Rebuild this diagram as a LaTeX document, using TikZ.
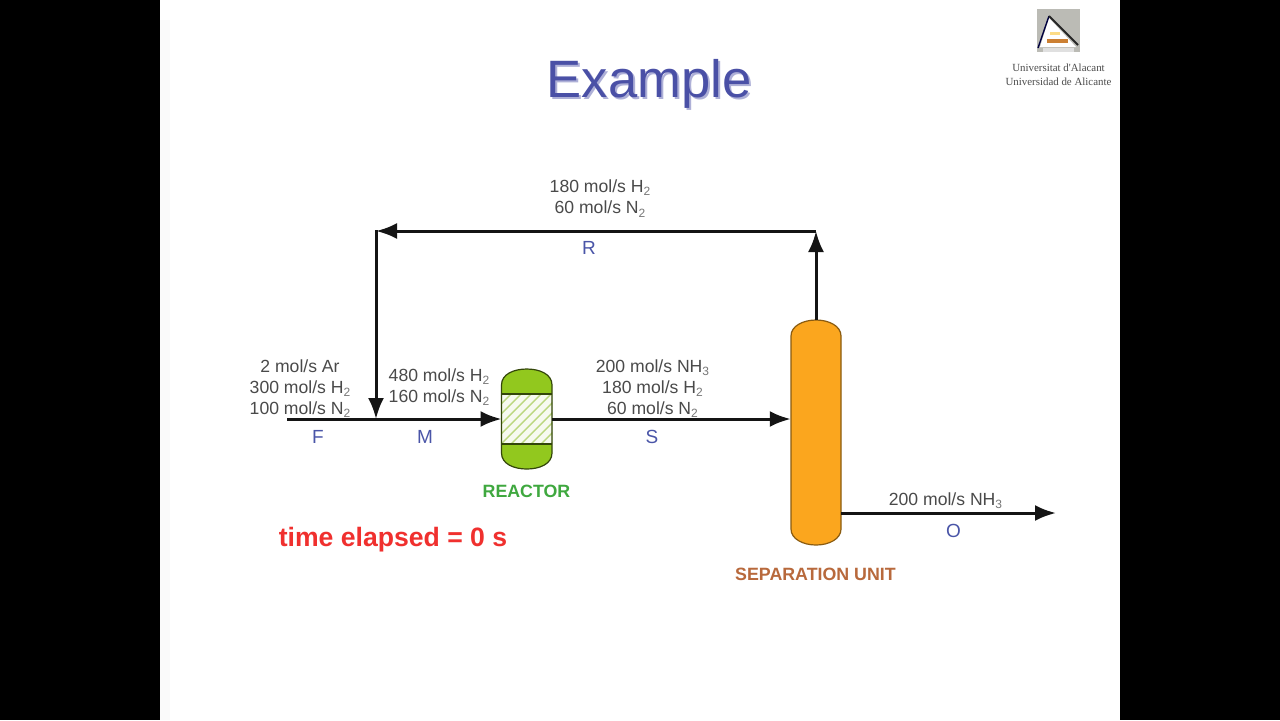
\documentclass[tikz,border=0pt]{standalone}
\usepackage{fontspec}
\setmainfont{Liberation Sans}
\newfontfamily\crestfont{Liberation Serif}
\usetikzlibrary{arrows.meta,calc}
\definecolor{flowgray}{HTML}{4A4A4A}
\definecolor{streamblue}{HTML}{4A55A8}
\definecolor{titleblue}{HTML}{4A50A6}
\definecolor{reactorgreen}{HTML}{92C81E}
\definecolor{hatchgreen}{HTML}{BBD77F}
\definecolor{labelgreen}{HTML}{3FA83F}
\definecolor{columnorange}{HTML}{FBA61E}
\definecolor{labelbrown}{HTML}{B8693C}
\definecolor{alarmred}{HTML}{F0302E}
\definecolor{crestgray}{HTML}{BBBBB5}
\newcommand{\lowidx}[1]{\raisebox{-0.35ex}{\color{flowgray!75}\fontsize{6}{6}\selectfont #1}}
\tikzset{
  x=0.5pt,y=-0.5pt,
  flow/.style={line width=1.5pt,draw=black!92,-{Latex[length=10.5pt,width=8pt]}},
  quantity/.style={text=flowgray,font=\fontsize{8.8}{10.6}\selectfont,align=center,inner sep=0pt},
  stream/.style={text=streamblue,font=\fontsize{9.5}{11}\selectfont,inner sep=0pt},
  unitlabel/.style={font=\bfseries\fontsize{8.9}{10}\selectfont,inner sep=0pt},
  vesselbox/.style={inner sep=0pt,outer sep=0pt,minimum width=25.25pt},
  vesseloutline/.style={draw=black!65!reactorgreen,line width=0.6pt},
}
\begin{document}
\begin{tikzpicture}
\useasboundingbox (0,0) rectangle (1280,720);
% slide area between the dark side bands
\fill[black] (0,0) rectangle (1280,720);
\fill[white] (160,0) rectangle (1120,720);
\fill[black!2] (160,20) rectangle (170,720);

% title, with its soft drop shadow
\node[text=titleblue!45,font=\fontsize{26.3}{30}\selectfont,inner sep=0pt] at (651,86) {Example};
\node[text=titleblue,font=\fontsize{26.3}{30}\selectfont,inner sep=0pt] (title) at (649,84) {Example};

% university crest
\fill[crestgray] (1037,9) rectangle (1080,52);
\fill[white] (1040,47) -- (1049,18) -- (1076,47) -- cycle;
\fill[black!12] (1043,48) rectangle (1074,52);
\fill[yellow!45!orange!45] (1050,32) rectangle (1060,35);
\fill[orange!75!black!80] (1047,39) rectangle (1068,43);
\draw[black!75!blue,line width=0.7pt] (1038,48) -- (1049,16);
\draw[black!85,line width=0.9pt] (1049,16) -- (1078,45);
\node[font=\crestfont\fontsize{5.45}{7}\selectfont,text=black!70,align=center,inner sep=0pt] (crest) at (1058.5,74.5)
  {Universitat d'Alacant\\Universidad de Alicante};

% reactor vessel with its hatched catalyst bed
\fill[reactorgreen] (501.5,385) .. controls (501.5,374) and (514,369) .. (526.75,369)
  .. controls (539.5,369) and (552,374) .. (552,385) -- (552,453)
  .. controls (552,464) and (539.5,469) .. (526.75,469)
  .. controls (514,469) and (501.5,464) .. (501.5,453) -- cycle;
\fill[white!88!hatchgreen] (501.5,394) rectangle (552,444);
\begin{scope}
  \clip (501.5,394) rectangle (552,444);
  \foreach \k in {0,10,...,110}
    \draw[hatchgreen,line width=0.7pt] (445+\k,450) -- ++(60,-60);
\end{scope}
\draw[vesseloutline] (501.5,385) .. controls (501.5,374) and (514,369) .. (526.75,369)
  .. controls (539.5,369) and (552,374) .. (552,385) -- (552,453)
  .. controls (552,464) and (539.5,469) .. (526.75,469)
  .. controls (514,469) and (501.5,464) .. (501.5,453) -- cycle;
\draw[vesseloutline] (501.5,394) -- (552,394) (501.5,444) -- (552,444);
\node[vesselbox,minimum height=50pt] (reactor) at (526.75,419) {};

% separation column
\path[fill=columnorange,draw=black!45!columnorange,line width=0.6pt]
  (791,336) .. controls (791,326) and (803,320) .. (816,320)
  .. controls (829,320) and (841,326) .. (841,336) -- (841,529)
  .. controls (841,539) and (829,545) .. (816,545)
  .. controls (803,545) and (791,539) .. (791,529) -- cycle;
\node[vesselbox,minimum height=112.5pt] (column) at (816,432.5) {};

% connection points of the process lines
\coordinate (feedstart) at (287,419);
\coordinate (mixer) at (376,419);
\coordinate (recycleend) at (376,231);
\coordinate (recyclecorner) at (816,231);
\coordinate (productend) at (1056,513);

% process streams
\draw[flow] (feedstart) -- (reactor.west);
\draw[flow] (reactor.east) -- (column.west |- reactor.east);
\draw[flow] (column.east |- productend) -- (productend);
\draw[flow] (column.north) -- (recyclecorner);
\draw[flow] (recyclecorner) -- (recycleend);
\draw[flow,line cap=rect] (recycleend) -- (mixer);

% stream compositions
\node[quantity] (qrecycle) at (600,198.5) {180 mol/s H\lowidx{2}\\60 mol/s N\lowidx{2}};
\node[quantity] (qfeed) at (300,388.5) {2 mol/s Ar\\300 mol/s H\lowidx{2}\\100 mol/s N\lowidx{2}};
\node[quantity] (qmixed) at (439,387) {480 mol/s H\lowidx{2}\\160 mol/s N\lowidx{2}};
\node[quantity] (qreacted) at (652.5,388.5) {200 mol/s NH\lowidx{3}\\180 mol/s H\lowidx{2}\\60 mol/s N\lowidx{2}};
\node[quantity] (qproduct) at (945.5,501) {200 mol/s NH\lowidx{3}};

% stream letters
\node[stream] (sR) at (589,248) {R};
\node[stream] (sF) at (318,437) {F};
\node[stream] (sM) at (425,437) {M};
\node[stream] (sS) at (652,437) {S};
\node[stream] (sO) at (953.5,531) {O};

% unit names and the clock
\node[unitlabel,text=labelgreen] (lreactor) at (526.5,491) {REACTOR};
\node[unitlabel,text=labelbrown] (lcolumn) at (815.5,574) {SEPARATION UNIT};
\node[text=alarmred,font=\bfseries\fontsize{13.3}{15}\selectfont,inner sep=0pt] (clock) at (393,540) {time elapsed = 0 s};
\end{tikzpicture}
\end{document}
